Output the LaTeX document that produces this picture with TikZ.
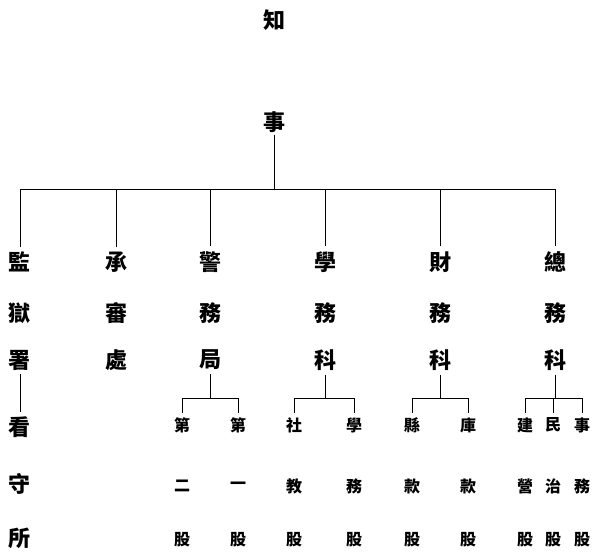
\documentclass[tikz,border=0pt]{standalone}
\usepackage{fontspec}
\newfontfamily\cjk{Noto Sans CJK TC}
\begin{document}
\begin{tikzpicture}[x=1pt,y=-1pt,
  big/.style={font=\cjk\bfseries\fontsize{22}{22}\selectfont, inner sep=0pt},
  small/.style={font=\cjk\bfseries\fontsize{16}{16}\selectfont, inner sep=0pt},
  link/.style={line width=1pt, line cap=butt}]
\useasboundingbox (0,0) rectangle (594,555);
% top
\node[big] (zhi) at (274,20) {知};
\node[big] (shi) at (274,122) {事};
\coordinate (bartop) at (274,189);
\coordinate (barL) at (20,189);
\coordinate (barR) at (556,189);
% main columns
\node[big] (a1) at (20,262) {監};
\node[big] (a2) at (20,313) {獄};
\node[big] (a3) at (20,360) {署};
\node[big] (a4) at (20,427) {看};
\node[big] (a5) at (20,484) {守};
\node[big] (a6) at (20,538) {所};
\node[big] (b1) at (116,262) {承};
\node[big] (b2) at (116,313) {審};
\node[big] (b3) at (116,360) {處};
\node[big] (c1) at (210,262) {警};
\node[big] (c2) at (210,313) {務};
\node[big] (c3) at (210,360) {局};
\node[big] (d1) at (325,262) {學};
\node[big] (d2) at (325,313) {務};
\node[big] (d3) at (325,360) {科};
\node[big] (e1) at (440,262) {財};
\node[big] (e2) at (440,313) {務};
\node[big] (e3) at (440,360) {科};
\node[big] (f1) at (555,262) {總};
\node[big] (f2) at (555,313) {務};
\node[big] (f3) at (555,360) {科};
% sub units
\node[small] (c11) at (182,425) {第};
\node[small] (c12) at (182,486) {二};
\node[small] (c13) at (182,540) {股};
\node[small] (c21) at (238,425) {第};
\node[small] (c22) at (238,486) {一};
\node[small] (c23) at (238,540) {股};
\node[small] (d11) at (294,425) {社};
\node[small] (d12) at (294,486) {教};
\node[small] (d13) at (294,540) {股};
\node[small] (d21) at (354,425) {學};
\node[small] (d22) at (354,486) {務};
\node[small] (d23) at (354,540) {股};
\node[small] (e11) at (412,425) {縣};
\node[small] (e12) at (412,486) {款};
\node[small] (e13) at (412,540) {股};
\node[small] (e21) at (468,425) {庫};
\node[small] (e22) at (468,486) {款};
\node[small] (e23) at (468,540) {股};
\node[small] (f11) at (525,425) {建};
\node[small] (f12) at (525,486) {營};
\node[small] (f13) at (525,540) {股};
\node[small] (f21) at (553,425) {民};
\node[small] (f22) at (553,486) {治};
\node[small] (f23) at (553,540) {股};
\node[small] (f31) at (582,425) {事};
\node[small] (f32) at (582,486) {務};
\node[small] (f33) at (582,540) {股};
% top connectors
\draw[link, shorten <=2pt] (shi.south) -- (bartop);
\draw[link] (barL) -- (barR);
\foreach \n in {a1,b1,c1,d1,e1,f1}
  \draw[link, shorten >=5pt] (barL -| \n) -- (\n.north);
\draw[link, shorten <=4pt, shorten >=4pt] (a3.south) -- (a4.north);
% sub connectors
\coordinate (sub) at (0,398);
\foreach \p/\l/\r in {c3/c11/c21, d3/d11/d21, e3/e11/e21, f3/f11/f31}{
  \draw[link, shorten <=4pt] (\p.south) -- (sub -| \p);
  \draw[link] (sub -| \l) -- (sub -| \r);
}
\foreach \n in {c11,c21,d11,d21,e11,e21,f11,f21,f31}
  \draw[link, shorten >=4pt] (sub -| \n) -- (\n.north);
\end{tikzpicture}
\end{document}
